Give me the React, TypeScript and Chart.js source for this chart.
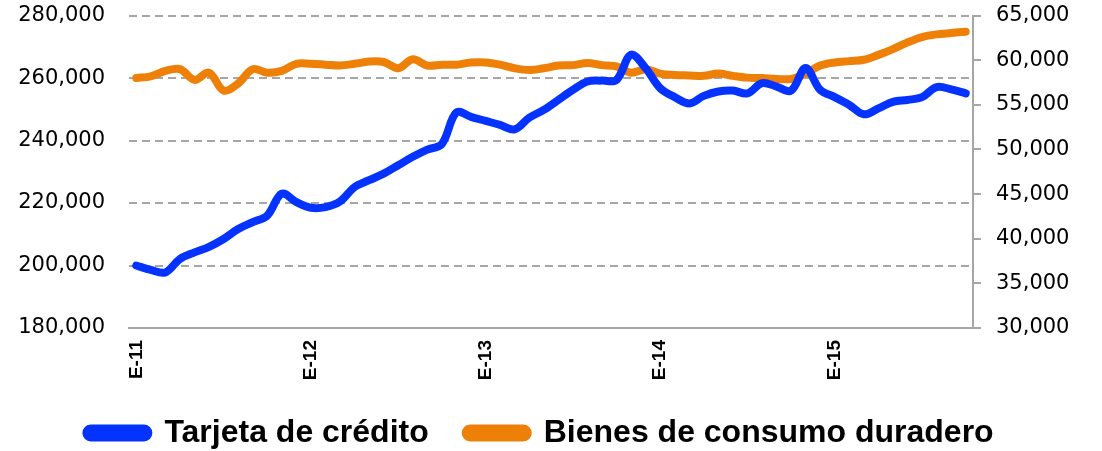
import React, { useEffect, useRef } from "react";
import { Chart, registerables } from "chart.js";

Chart.register(...registerables);

const monthInitials = ["E", "F", "M", "A", "M", "J", "J", "A", "S", "O", "N", "D"];
const years = ["11", "12", "13", "14", "15"];
const categories: string[] = [];
years.forEach((y) => monthInitials.forEach((m) => categories.push(`${m}-${y}`)));
categories.splice(58);

const tarjetaCredito = [
  200000, 198600, 197800, 202100, 204200, 206000, 208500, 211700, 213900, 216000,
  223000, 220300, 218500, 218700, 220500, 225100, 227300, 229400, 232100, 234800,
  237100, 238900, 249000, 247600, 246300, 245000, 243600, 247300, 249800, 253000,
  256200, 258900, 259200, 259400, 267500, 263200, 256800, 253900, 251900, 254300,
  255700, 256000, 255100, 258400, 257300, 256000, 263200, 256200, 253900, 251400,
  248400, 250300, 252400, 253000, 253900, 257100, 256400, 255100,
];

const bienesConsumoDuradero = [
  58000, 58200, 58800, 59000, 57800, 58600, 56600, 57400, 59000, 58600,
  58800, 59600, 59600, 59500, 59400, 59600, 59850, 59800, 59100, 60100,
  59400, 59500, 59500, 59750, 59750, 59500, 59100, 58900, 59100, 59400,
  59450, 59700, 59450, 59300, 58600, 59000, 58500, 58350, 58300, 58250,
  58500, 58250, 58050, 58000, 57900, 57900, 58500, 59400, 59750, 59900,
  60050, 60600, 61250, 62000, 62600, 62900, 63050, 63200,
];

const seriesNames = ["Tarjeta de crédito", "Bienes de consumo duradero"];
const leftTicks = { min: 180000, max: 280000, step: 20000 };
const rightTicks = { min: 30000, max: 65000, step: 5000 };

const BLUE = "#0433ff";
const ORANGE = "#ee8008";
const GRID = "#a6a6a6";

export default function App() {
  const ref = useRef<HTMLCanvasElement | null>(null);

  useEffect(() => {
    document.body.style.margin = "0";
    const canvas = ref.current;
    if (!canvas) return;
    const fmt = (v: number) => Number(v).toLocaleString("en-US");
    const chart = new Chart(canvas, {
      type: "line",
      data: {
        labels: categories,
        datasets: [
          {
            label: seriesNames[0],
            data: tarjetaCredito,
            yAxisID: "y",
            borderColor: BLUE,
            backgroundColor: BLUE,
            borderWidth: 8,
            pointRadius: 0,
            tension: 0.35,
            borderCapStyle: "round",
            borderJoinStyle: "round",
          },
          {
            label: seriesNames[1],
            data: bienesConsumoDuradero,
            yAxisID: "y1",
            borderColor: ORANGE,
            backgroundColor: ORANGE,
            borderWidth: 8,
            pointRadius: 0,
            tension: 0.35,
            borderCapStyle: "round",
            borderJoinStyle: "round",
          },
        ],
      },
      options: {
        responsive: false,
        animation: false,
        layout: { padding: { top: 0, left: 0, right: 22, bottom: -8 } },
        plugins: {
          tooltip: { enabled: false },
          legend: {
            position: "bottom",
            labels: {
              color: "#000",
              boxWidth: 62,
              boxHeight: 9,
              useBorderRadius: true,
              borderRadius: 4.5,
              padding: 37,
              font: { family: "'Liberation Sans', Arial, sans-serif", size: 32, weight: "bold" },
            },
          },
        },
        scales: {
          x: {
            offset: true,
            grid: { display: false, drawTicks: false },
            border: { display: true, color: GRID, width: 2 },
            ticks: {
              autoSkip: false,
              minRotation: 90,
              maxRotation: 90,
              padding: 12,
              color: "#000",
              font: { family: "'Liberation Sans Narrow', 'Liberation Sans', sans-serif", size: 19, weight: "bold" },
              callback: (_v: any, i: number) => (categories[i].startsWith("E-") ? categories[i] : ""),
            },
            afterFit: (s: any) => {
              s.height = 52;
            },
          },
          y: {
            position: "left",
            min: leftTicks.min,
            max: leftTicks.max,
            grid: {
              drawTicks: true,
              tickLength: 21,
              tickColor: "rgba(0,0,0,0)",
              lineWidth: 2,
              color: (ctx: any) => (ctx.tick && ctx.tick.value === leftTicks.min ? "rgba(0,0,0,0)" : GRID),
            },
            border: { display: false, dash: [8, 5] },
            ticks: {
              stepSize: leftTicks.step,
              padding: 3,
              color: "#000",
              font: { family: "'DejaVu Sans', sans-serif", size: 21 },
              callback: (v: any) => fmt(v),
            },
            afterFit: (s: any) => {
              s.width = 129;
            },
          },
          y1: {
            position: "right",
            min: rightTicks.min,
            max: rightTicks.max,
            grid: {
              drawOnChartArea: false,
              drawTicks: true,
              tickLength: 20,
              tickBorderDash: [7, 60],
              lineWidth: 2,
              color: GRID,
            },
            border: { display: true, color: GRID, width: 2 },
            ticks: {
              stepSize: rightTicks.step,
              padding: 3,
              color: "#000",
              font: { family: "'DejaVu Sans', sans-serif", size: 21 },
              callback: (v: any) => fmt(v),
            },
            afterFit: (s: any) => {
              s.width = 107;
            },
          },
        },
      },
    });
    return () => chart.destroy();
  }, []);

  return (
    <div style={{ width: 1102, height: 451, position: "relative", background: "#fff" }}>
      <canvas ref={ref} width={1102} height={451} style={{ width: 1102, height: 451, display: "block" }} />
    </div>
  );
}
